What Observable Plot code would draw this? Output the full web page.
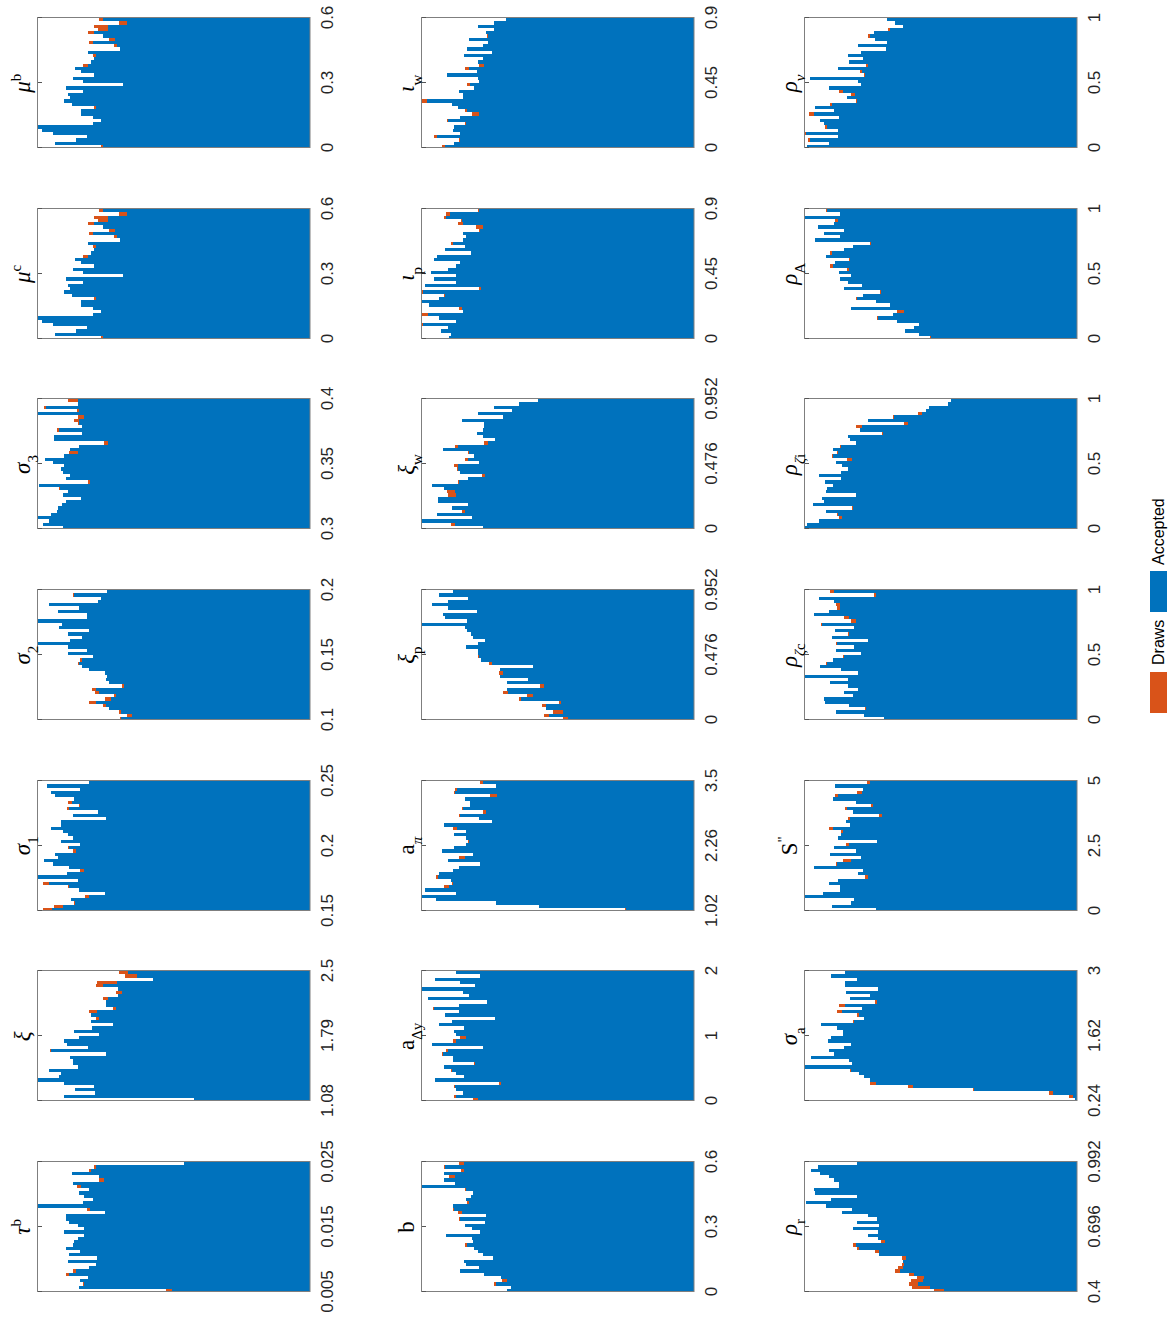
<!DOCTYPE html>
<html><head><meta charset="utf-8">
<script src="https://cdn.jsdelivr.net/npm/d3@7"></script>
<script src="https://cdn.jsdelivr.net/npm/@observablehq/plot@0.6"></script>
<style>
html,body{margin:0;padding:0;background:#fff;overflow:hidden}
#page{position:relative;width:1172px;height:1319px;overflow:hidden;background:#fff}
#fig{position:absolute;left:0;top:0;width:1319px;height:1172px;transform-origin:0 0;transform:translate(0px,1319px) rotate(-90deg)}
.panel{position:absolute}
.title{position:absolute;width:130px;text-align:center;font-family:"Liberation Serif","DejaVu Serif",serif;font-size:23px;color:#000;white-space:nowrap;line-height:normal}
.title sub{font-size:15px;vertical-align:-8px;line-height:0}
.title sup{font-size:15px;vertical-align:9px;line-height:0}
.lg{position:absolute;font-family:"Liberation Sans",Arial,sans-serif;font-size:16px;color:#000;line-height:17px}
</style></head>
<body><div id="page"><div id="fig"></div></div>
<script>
// Histogram counts per bin, listed from the highest-value bin down to the lowest.
// acc = accepted draws, rej = draws that were not accepted (Draws = acc + rej).
const tau_b_acc=[375,640,655,712,630,615,710,685,662,690,677,650,680,815,658,613,730,730,720,695,675,737,675,695,705,708,730,687,720,638,725,640,660,700,720,665,687,675,690,412];
const tau_b_rej=[0,7,5,0,0,15,0,12,0,0,0,0,0,0,10,0,0,0,0,0,0,0,0,0,0,0,0,0,0,0,0,0,0,8,10,0,0,3,0,18];
const xi_acc=[545,518,468,578,618,575,562,575,605,610,610,580,638,655,632,655,590,652,705,630,692,737,728,665,775,610,718,710,710,693,782,745,750,815,735,645,702,643,735,345];
const xi_rej=[25,35,0,60,22,0,18,0,15,0,0,8,22,0,8,0,0,0,0,0,0,0,0,0,3,0,0,0,0,0,0,0,0,0,0,0,0,0,0,0];
const sigma1_acc=[660,787,687,775,762,705,712,687,722,633,708,610,745,745,775,740,723,708,745,687,720,700,762,755,795,768,720,677,728,818,695,782,720,690,612,660,715,702,740,772];
const sigma1_rej=[0,0,0,0,0,0,13,5,6,0,0,0,0,0,0,0,0,0,0,0,5,8,0,0,0,0,0,10,0,0,0,16,5,0,0,12,0,3,25,26];
const sigma2_acc=[608,705,625,633,782,690,755,668,668,815,742,750,660,725,682,718,815,725,668,725,650,682,690,682,660,612,608,610,600,555,640,630,580,595,640,610,600,565,533,565];
const sigma2_rej=[0,5,0,0,0,0,0,0,0,0,0,0,0,0,0,0,0,0,0,0,0,6,3,0,0,0,0,0,0,7,13,12,7,17,22,10,0,5,15,3];
const sigma3_acc=[693,693,790,690,818,675,690,690,682,750,682,765,765,605,690,718,695,735,793,770,735,745,740,718,730,657,810,747,725,740,685,730,743,755,758,775,813,782,800,740];
const sigma3_rej=[30,0,7,7,0,20,15,5,0,8,0,0,0,10,0,0,25,0,0,0,0,0,0,0,0,8,0,5,0,0,0,0,0,0,0,0,0,0,0,0];
const mu_c_acc=[620,547,605,605,647,620,583,650,578,568,665,640,645,655,665,702,685,645,708,680,560,730,680,723,718,735,712,640,685,685,650,625,650,818,803,768,668,700,763,620];
const mu_c_rej=[12,25,40,30,18,0,19,10,7,0,0,10,0,0,15,0,0,0,0,0,0,0,0,0,0,0,0,5,0,0,0,0,0,0,0,0,0,0,0,5];
const mu_b_acc=[620,547,605,605,647,620,583,650,578,568,665,640,645,655,665,702,685,645,708,680,560,730,680,723,718,735,712,640,685,685,650,625,650,818,803,768,668,700,763,620];
const mu_b_rej=[12,25,40,30,18,0,19,10,7,0,0,10,0,0,15,0,0,0,0,0,0,0,0,0,0,0,0,5,0,0,0,0,0,0,0,0,0,0,0,5];
const b_acc=[687,744,687,747,714,747,714,815,682,662,667,682,672,722,719,694,622,700,624,685,664,639,742,664,660,679,657,647,630,602,687,682,644,700,627,577,560,592,547,560];
const b_rej=[15,3,10,0,18,0,0,3,3,0,0,0,7,0,3,13,0,4,0,0,0,0,0,0,0,6,0,0,0,0,2,0,0,0,0,0,14,5,0,0];
const a_dy_acc=[712,639,774,700,654,815,692,672,797,620,704,777,704,744,594,725,762,687,719,712,682,712,784,632,737,752,722,722,654,747,724,712,687,774,577,714,712,692,712,647];
const a_dy_rej=[0,2,0,0,0,0,0,2,0,0,0,5,0,0,0,0,0,2,0,0,18,10,0,0,5,3,0,0,3,0,3,0,0,0,5,3,0,0,5,13];
const a_pi_acc=[632,592,709,714,590,685,670,670,690,622,700,642,605,747,710,682,717,682,674,682,719,754,660,684,737,640,704,722,762,765,727,722,732,804,712,815,772,592,462,202];
const a_pi_rej=[7,0,6,5,20,0,0,0,4,10,2,0,0,0,12,0,0,0,3,0,0,0,0,18,0,0,0,0,0,7,0,3,15,0,0,0,0,0,0,2];
const xi_p_acc=[722,762,677,737,785,737,650,750,744,679,815,684,679,667,662,625,647,682,645,645,644,637,604,482,579,572,579,497,560,447,560,557,482,517,397,442,442,392,432,377];
const xi_p_rej=[0,0,0,0,0,0,0,0,0,0,0,0,0,0,0,0,0,0,0,0,2,0,10,0,0,12,0,0,0,12,0,15,17,7,5,13,0,30,15,15];
const xi_w_acc=[467,524,597,544,647,572,694,629,629,632,650,630,594,617,707,752,672,657,677,642,707,707,700,626,677,704,784,747,715,712,765,765,677,724,686,770,664,814,714,632];
const xi_w_rej=[0,0,0,0,0,0,0,0,0,0,0,0,0,10,8,0,5,0,8,0,10,2,0,8,0,3,0,0,24,23,0,0,0,0,8,0,0,0,13,0];
const iota_p_acc=[642,729,742,694,690,632,639,690,682,690,720,684,744,667,769,777,700,712,737,787,712,777,712,805,637,810,744,762,815,792,694,692,795,762,712,810,737,757,727,732];
const iota_p_rej=[5,13,7,3,17,20,3,0,0,0,7,0,0,0,0,0,0,0,0,0,0,0,0,0,7,4,5,0,0,0,10,0,19,0,0,4,0,0,0,0];
const iota_w_acc=[562,597,647,597,622,615,672,615,632,680,604,687,632,647,629,672,649,740,647,642,670,657,702,690,690,800,724,707,679,642,699,737,682,719,720,700,769,700,717,744];
const iota_w_rej=[0,0,0,0,0,3,0,0,0,0,0,0,0,0,13,13,0,0,0,0,9,0,0,0,0,14,0,0,6,22,0,2,3,0,0,0,10,2,0,10];
const rho_r_acc=[658,776,796,768,741,726,713,713,786,783,658,736,811,751,674,703,626,598,658,591,671,596,626,594,573,661,651,591,591,511,521,518,521,528,486,456,461,476,438,396];
const rho_r_rej=[0,0,0,0,0,0,0,0,0,0,0,0,0,0,0,0,0,0,0,0,0,0,0,0,13,8,7,12,0,13,0,6,13,15,15,22,35,27,56,30];
const sigma_a_acc=[694,736,658,694,694,596,691,619,679,598,694,644,703,651,638,666,766,718,701,699,736,746,676,698,741,726,796,681,674,816,676,651,636,619,601,491,306,71,11,4];
const sigma_a_rej=[0,0,0,0,0,0,0,0,0,6,17,0,15,7,0,5,0,0,0,0,0,0,0,0,0,0,0,0,0,0,3,0,0,0,17,13,3,10,10,0];
const S2_acc=[619,723,641,644,716,729,661,611,688,671,583,679,691,679,731,701,706,716,598,683,726,661,739,646,676,719,786,639,654,626,716,741,708,708,761,814,666,676,734,601];
const S2_rej=[9,0,0,14,7,0,0,5,6,0,8,7,0,0,10,5,0,0,0,8,0,0,0,0,25,2,0,0,2,7,0,0,0,0,0,0,0,0,0,0];
const rho_zc_acc=[726,601,771,726,708,708,741,786,681,661,764,666,724,683,734,626,719,668,721,646,698,731,748,768,706,654,816,684,738,686,654,698,671,756,754,681,631,721,636,576];
const rho_zc_rej=[12,5,2,0,13,10,0,0,17,15,2,0,0,3,0,0,2,0,0,0,2,0,3,0,0,2,0,0,0,0,0,0,0,0,0,0,3,0,0,0];
const rho_zi_acc=[376,386,441,451,464,546,626,504,643,648,581,684,679,661,706,731,716,731,673,721,704,684,706,771,706,753,731,748,751,661,764,756,791,671,751,716,703,771,808,816];
const rho_zi_rej=[0,0,0,0,12,5,0,14,17,0,2,0,0,0,2,0,2,2,15,0,0,0,0,0,0,0,0,0,0,0,0,0,0,2,0,3,8,0,0,0];
const rho_A_acc=[748,709,816,716,726,776,696,756,709,783,616,671,698,734,751,679,723,729,681,711,676,708,686,643,696,586,641,658,601,558,676,518,551,596,538,471,488,513,471,436];
const rho_A_rej=[2,0,0,8,0,0,0,0,0,0,2,0,0,4,0,2,0,9,7,0,0,0,0,0,0,2,0,2,0,0,0,20,0,2,0,0,0,0,0,3];
const rho_nu_acc=[569,544,521,559,606,618,604,568,656,571,646,684,641,681,624,714,644,634,798,654,646,741,701,664,688,658,734,784,728,786,711,768,756,749,714,812,716,799,741,809];
const rho_nu_rej=[0,0,0,5,0,6,0,0,0,0,0,0,0,0,7,0,4,2,0,0,0,0,10,12,0,2,5,0,0,15,0,0,0,5,0,4,0,5,0,0];

// Panels in reading order of the (unrotated) figure: 3 rows x 7 columns
const accData=[tau_b_acc,xi_acc,sigma1_acc,sigma2_acc,sigma3_acc,mu_c_acc,mu_b_acc,
  b_acc,a_dy_acc,a_pi_acc,xi_p_acc,xi_w_acc,iota_p_acc,iota_w_acc,
  rho_r_acc,sigma_a_acc,S2_acc,rho_zc_acc,rho_zi_acc,rho_A_acc,rho_nu_acc];
const rejData=[tau_b_rej,xi_rej,sigma1_rej,sigma2_rej,sigma3_rej,mu_c_rej,mu_b_rej,
  b_rej,a_dy_rej,a_pi_rej,xi_p_rej,xi_w_rej,iota_p_rej,iota_w_rej,
  rho_r_rej,sigma_a_rej,S2_rej,rho_zc_rej,rho_zi_rej,rho_A_rej,rho_nu_rej];
const tickLabels=[
  ["0.005","0.015","0.025"],["1.08","1.79","2.5"],["0.15","0.2","0.25"],["0.1","0.15","0.2"],["0.3","0.35","0.4"],["0","0.3","0.6"],["0","0.3","0.6"],
  ["0","0.3","0.6"],["0","1","2"],["1.02","2.26","3.5"],["0","0.476","0.952"],["0","0.476","0.952"],["0","0.45","0.9"],["0","0.45","0.9"],
  ["0.4","0.696","0.992"],["0.24","1.62","3"],["0","2.5","5"],["0","0.5","1"],["0","0.5","1"],["0","0.5","1"],["0","0.5","1"]];
// titles: [symbol, subscript, superscript]
const titles=[
  ["τ","","b"],["ξ","",""],["σ","1",""],["σ","2",""],["σ","3",""],["μ","","c"],["μ","","b"],
  ["b","",""],["a","Δy",""],["a","π",""],["ξ","p",""],["ξ","w",""],["ι","p",""],["ι","w",""],
  ["ρ","r",""],["σ","a",""],["S","","\""],["ρ","ζc",""],["ρ","ζi",""],["ρ","A",""],["ρ","ν",""]];
const countMax=817;
const legendLabels=["Draws","Accepted"];
const legendColors=["#D95319","#0072BD"];

const fig=document.getElementById("fig");
const W=130,H=272.5,ML=32,MR=32,MT=6,MB=38;

function addText(el,str){
  for(const ch of str){
    if(/[\u03b1-\u03c9]/.test(ch)){const i=document.createElement("i");i.textContent=ch;el.appendChild(i);}
    else el.appendChild(document.createTextNode(ch));
  }
}

accData.forEach((acc,idx)=>{
  const r=Math.floor(idx/7),c=idx%7;
  const fl=27.1+190.6*c, ft=37.3+383.3*r;
  const rej=rejData[idx];
  const labels=tickLabels[idx];
  const ticks=labels.map(Number);
  const lo=ticks[0],hi=ticks[ticks.length-1];
  const n=acc.length,step=(hi-lo)/n;
  const rows=acc.map((a,i)=>({x1:hi-(i+1)*step,x2:hi-i*step,acc:a,draws:a+rej[i]}));
  const chart=Plot.plot({
    width:W+ML+MR,height:H+MT+MB,marginLeft:ML,marginRight:MR,marginTop:MT,marginBottom:MB,
    style:{background:"transparent",overflow:"visible",fontFamily:"'Liberation Sans',Arial,sans-serif"},
    x:{domain:[lo,hi]},
    y:{domain:[0,countMax],axis:null},
    marks:[
      Plot.rectY(rows,{x1:"x1",x2:"x2",y:"draws",fill:legendColors[0],shapeRendering:"crispEdges"}),
      Plot.rectY(rows,{x1:"x1",x2:"x2",y:"acc",fill:legendColors[1],shapeRendering:"crispEdges"}),
      Plot.frame({stroke:"#7f7f7f",strokeWidth:1}),
      Plot.axisX({anchor:"bottom",ticks,tickFormat:d=>labels[ticks.indexOf(d)],tickSize:0,tickPadding:11,fontSize:17,fill:"#262626",label:null}),
      Plot.axisX({anchor:"top",ticks,tickSize:-4,tickFormat:()=>"",stroke:"#555",label:null})
    ]
  });
  chart.classList.add("panel");
  chart.style.left=(fl-ML)+"px";
  chart.style.top=(ft-MT)+"px";
  fig.appendChild(chart);

  const t=document.createElement("div");
  t.className="title";
  t.style.left=fl+"px";
  t.style.bottom=(1172-ft+1)+"px";
  const [m,sub,sup]=titles[idx];
  addText(t,m);
  if(sup){const s=document.createElement("sup");addText(s,sup);t.appendChild(s);}
  if(sub){const s=document.createElement("sub");addText(s,sub);t.appendChild(s);}
  fig.appendChild(t);
});

// legend (bottom centre of the unrotated figure)
const lgPos=[[606,654],[707,754]];
legendLabels.forEach((lab,i)=>{
  const sw=document.createElement("div");
  sw.style.cssText=`position:absolute;left:${lgPos[i][0]}px;top:1150px;width:41px;height:17px;background:${legendColors[i]}`;
  fig.appendChild(sw);
  const tx=document.createElement("div");
  tx.className="lg";
  tx.style.left=lgPos[i][1]+"px";tx.style.top="1150px";
  tx.textContent=lab;
  fig.appendChild(tx);
});
</script></body></html>
